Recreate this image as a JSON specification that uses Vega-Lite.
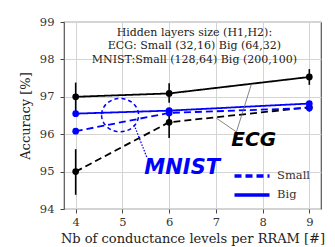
{
  "$schema": "https://vega.github.io/schema/vega-lite/v6.json",
  "autosize": "none",
  "width": 257,
  "height": 187,
  "padding": {"left": 64, "top": 22, "right": 14, "bottom": 38},
  "background": "white",
  "datasets": {
    "acc": [
      {"dataset": "ECG", "size": "Big", "x": 4, "acc": 97.0, "lo": 96.62, "hi": 97.38},
      {"dataset": "ECG", "size": "Big", "x": 6, "acc": 97.09, "lo": 96.84, "hi": 97.36},
      {"dataset": "ECG", "size": "Big", "x": 9, "acc": 97.53, "lo": 97.32, "hi": 97.74},
      {"dataset": "ECG", "size": "Small", "x": 4, "acc": 95.0, "lo": 94.38, "hi": 95.6},
      {"dataset": "ECG", "size": "Small", "x": 6, "acc": 96.32, "lo": 95.9, "hi": 96.62},
      {"dataset": "ECG", "size": "Small", "x": 9, "acc": 96.72, "lo": 96.6, "hi": 96.85},
      {"dataset": "MNIST", "size": "Big", "x": 4, "acc": 96.55},
      {"dataset": "MNIST", "size": "Big", "x": 6, "acc": 96.63},
      {"dataset": "MNIST", "size": "Big", "x": 9, "acc": 96.82},
      {"dataset": "MNIST", "size": "Small", "x": 4, "acc": 96.08},
      {"dataset": "MNIST", "size": "Small", "x": 6, "acc": 96.57},
      {"dataset": "MNIST", "size": "Small", "x": 9, "acc": 96.7}
    ],
    "one": [{}]
  },
  "config": {
    "view": {"stroke": "#555", "strokeWidth": 1.2},
    "axis": {
      "labelFont": "DejaVu Serif", "labelFontSize": 11.5, "labelColor": "#333", "labelOverlap": false, "labelBound": false,
      "titleFont": "DejaVu Serif", "titleFontSize": 13, "titleFontWeight": "normal", "titleColor": "#222",
      "gridColor": "#d4d4d4", "gridWidth": 1, "tickColor": "#444", "tickSize": 4, "domain": false
    },
    "axisQuantitative": {"labelOverlap": false}
  },
  "encoding": {
    "x": {"type": "quantitative",
          "scale": {"domain": [3.75, 9.25], "nice": false, "zero": false},
          "axis": {"tickCount": 6, "format": "d", "labelOverlap": false, "labelFlush": false, "title": "Nb of conductance levels per RRAM [#]", "labelPadding": 3, "titlePadding": 5}},
    "y": {"type": "quantitative",
          "scale": {"domain": [94, 99], "nice": false, "zero": false},
          "axis": {"values": [94, 95, 96, 97, 98, 99], "labelOverlap": false, "labelFlush": false, "title": "Accuracy [%]", "labelPadding": 6, "titlePadding": 7}}
  },
  "layer": [
    {
      "data": {"name": "acc"},
      "transform": [{"filter": "datum.lo != null"}],
      "mark": {"type": "rule", "color": "black", "strokeWidth": 1.6},
      "encoding": {"x": {"field": "x"}, "y": {"field": "lo"}, "y2": {"field": "hi"}}
    },
    {
      "data": {"name": "acc"},
      "mark": {"type": "line", "strokeWidth": 1.8},
      "encoding": {
        "x": {"field": "x"},
        "y": {"field": "acc"},
        "color": {"field": "dataset", "type": "nominal", "scale": {"domain": ["ECG", "MNIST"], "range": ["black", "blue"]}, "legend": null},
        "strokeDash": {"field": "size", "type": "nominal",
          "scale": {"domain": ["Small", "Big"], "range": [[7, 4], [1, 0]]},
          "legend": {"title": null, "orient": "none", "legendX": 176, "legendY": 142,
            "symbolType": "M -1.75 0 L 1.75 0", "symbolSize": 400, "symbolStrokeWidth": 3.5, "symbolStrokeColor": "blue", "symbolFillColor": "transparent",
            "labelFont": "DejaVu Serif", "labelFontSize": 11.5, "labelColor": "#333", "labelOffset": 13, "rowPadding": -7}}
      }
    },
    {
      "data": {"name": "acc"},
      "mark": {"type": "point", "filled": true, "opacity": 1, "size": 45},
      "encoding": {
        "x": {"field": "x"},
        "y": {"field": "acc"},
        "color": {"field": "dataset", "type": "nominal", "legend": null}
      }
    },
    {
      "data": {"name": "one"},
      "mark": {"type": "point", "filled": false, "shape": "M -1 0 A 1 0.9 0 1 0 1 0 A 1 0.9 0 1 0 -1 0 Z", "size": 1369, "stroke": "blue", "strokeWidth": 1.5, "strokeDash": [4, 3], "opacity": 1},
      "encoding": {"x": {"datum": 4.95}, "y": {"datum": 96.51}}
    },
    {
      "data": {"name": "one"},
      "mark": {"type": "rule", "color": "blue", "strokeWidth": 1.3, "strokeDash": [1.5, 1.5]},
      "encoding": {"x": {"datum": 5.25}, "y": {"datum": 96.25}, "x2": {"datum": 5.53}, "y2": {"datum": 95.36}}
    },
    {
      "data": {"name": "one"},
      "mark": {"type": "rule", "color": "#666", "strokeWidth": 0.8},
      "encoding": {"x": {"datum": 7.44}, "y": {"datum": 96.06}, "x2": {"datum": 7.76}, "y2": {"datum": 97.34}}
    },
    {
      "data": {"name": "one"},
      "mark": {"type": "rule", "color": "#666", "strokeWidth": 0.8},
      "encoding": {"x": {"datum": 7.44}, "y": {"datum": 96.06}, "x2": {"datum": 7.01}, "y2": {"datum": 96.43}}
    },
    {
      "data": {"name": "one"},
      "mark": {"type": "text", "text": "MNIST", "font": "DejaVu Sans", "fontWeight": "bold", "fontStyle": "italic", "fontSize": 21, "color": "blue", "align": "center", "baseline": "middle"},
      "encoding": {"x": {"datum": 6.28}, "y": {"datum": 95.1}}
    },
    {
      "data": {"name": "one"},
      "mark": {"type": "text", "text": "ECG", "font": "DejaVu Sans", "fontWeight": "bold", "fontStyle": "italic", "fontSize": 20, "color": "black", "align": "center", "baseline": "middle"},
      "encoding": {"x": {"datum": 7.81}, "y": {"datum": 95.84}}
    },
    {
      "data": {"name": "one"},
      "mark": {"type": "text", "text": ["Hidden layers size (H1,H2):", "ECG: Small (32,16) Big (64,32)", "MNIST:Small (128,64) Big (200,100)"], "font": "DejaVu Serif", "fontSize": 11, "lineHeight": 13.5, "color": "#222", "align": "center", "baseline": "top"},
      "encoding": {"x": {"datum": 6.54}, "y": {"datum": 98.87}}
    }
  ]
}
